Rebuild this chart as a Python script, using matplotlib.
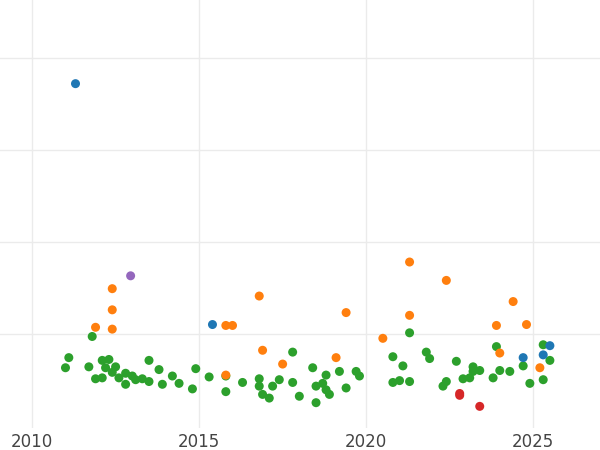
import matplotlib.pyplot as plt

# values (x = year, y = arbitrary units, grid every 1)
blue_x = [2011.3, 2015.4, 2024.7, 2025.3, 2025.5]
blue_y = [2.72, 0.10, -0.26, -0.23, -0.13]
purple_x = [2012.95]
purple_y = [0.63]
red_x = [2022.8, 2022.8, 2023.4]
red_y = [-0.65, -0.67, -0.79]
orange_x = [2011.9, 2012.4, 2012.4, 2012.4, 2015.8, 2016.0, 2015.8, 2016.8, 2016.9,
            2017.5, 2019.1, 2019.4, 2020.5, 2021.3, 2021.3, 2022.4, 2023.9, 2024.0,
            2024.4, 2024.8, 2025.2]
orange_y = [0.07, 0.49, 0.26, 0.05, 0.09, 0.09, -0.45, 0.41, -0.18,
            -0.33, -0.26, 0.23, -0.05, 0.78, 0.20, 0.58, 0.09, -0.21,
            0.35, 0.10, -0.37]
green_x = [2011.0, 2011.1, 2011.7, 2011.8, 2011.9, 2012.1, 2012.1, 2012.2, 2012.3,
           2012.4, 2012.5, 2012.6, 2012.8, 2012.8, 2013.0, 2013.1, 2013.3, 2013.5,
           2013.5, 2013.8, 2013.9, 2014.2, 2014.4, 2014.8, 2014.9, 2015.3, 2015.8,
           2015.8, 2016.3, 2016.8, 2016.8, 2016.9, 2017.1, 2017.2, 2017.4, 2017.8,
           2017.8, 2018.0, 2018.4, 2018.5, 2018.5, 2018.7, 2018.8, 2018.8, 2018.9,
           2019.2, 2019.4, 2019.7, 2019.8, 2020.8, 2020.8, 2021.0, 2021.1, 2021.3,
           2021.3, 2021.8, 2021.9, 2022.3, 2022.4, 2022.7, 2022.9, 2023.1, 2023.2,
           2023.2, 2023.4, 2023.8, 2023.9, 2024.0, 2024.3, 2024.7, 2024.9, 2025.3,
           2025.3, 2025.5]
green_y = [-0.37, -0.26, -0.36, -0.03, -0.49, -0.48, -0.29, -0.37, -0.28,
           -0.42, -0.36, -0.48, -0.55, -0.43, -0.46, -0.50, -0.49, -0.52,
           -0.29, -0.39, -0.55, -0.46, -0.54, -0.60, -0.38, -0.47, -0.46,
           -0.63, -0.53, -0.57, -0.49, -0.66, -0.70, -0.57, -0.50, -0.53,
           -0.20, -0.68, -0.37, -0.57, -0.75, -0.54, -0.61, -0.45, -0.66,
           -0.41, -0.59, -0.41, -0.46, -0.25, -0.53, -0.51, -0.35, -0.52,
           0.01, -0.20, -0.27, -0.57, -0.52, -0.30, -0.49, -0.48, -0.41,
           -0.36, -0.40, -0.48, -0.14, -0.40, -0.41, -0.35, -0.54, -0.12,
           -0.50, -0.29]

fig = plt.figure(figsize=(6, 4.5), dpi=100)
ax = fig.add_axes([0, 0.05, 1, 0.95])

series = [
    (green_x, green_y, '#2ca02c'),
    (orange_x, orange_y, '#ff7f0e'),
    (blue_x, blue_y, '#1f77b4'),
    (purple_x, purple_y, '#9467bd'),
    (red_x, red_y, '#d62728'),
]
for xs, ys, c in series:
    ax.scatter(xs, ys, s=42, color=c, edgecolors='none', zorder=3)

ax.set_xlim(2009.04, 2027.0)
ax.set_ylim(-1.02, 3.63)
ax.set_xticks([2010, 2015, 2020, 2025])
ax.set_yticks([0, 1, 2, 3])
ax.tick_params(axis='y', labelleft=False, length=0)
ax.tick_params(axis='x', length=0, labelsize=12, colors='#444444', pad=4)
ax.grid(True, color='#ebebeb', linewidth=1)
ax.set_axisbelow(True)
for sp in ax.spines.values():
    sp.set_visible(False)

fig.savefig('out.png', dpi=100)
